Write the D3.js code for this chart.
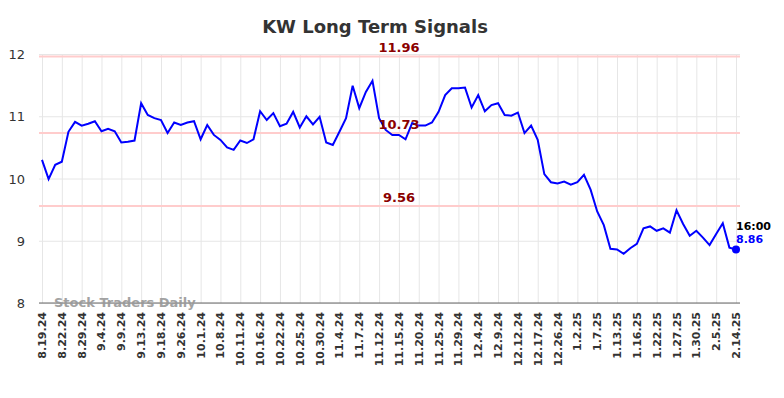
<!DOCTYPE html>
<html>
<head>
<meta charset="utf-8">
<script src="https://cdn.jsdelivr.net/npm/d3@7"></script>
<style>
  body { margin: 0; background: #fff; }
  svg { font-family: "DejaVu Sans", sans-serif; }
</style>
</head>
<body>
<div id="chart"></div>
<script>
// closing prices, one per trading day shown
const prices = [
  10.30, 9.99, 10.22, 10.27, 10.75, 10.91, 10.85, 10.88, 10.92, 10.76,
  10.80, 10.76, 10.58, 10.59, 10.61, 11.21, 11.02, 10.97, 10.94, 10.73,
  10.90, 10.86, 10.90, 10.92, 10.63, 10.86, 10.70, 10.62, 10.50, 10.46,
  10.61, 10.57, 10.63, 11.08, 10.94, 11.05, 10.84, 10.88, 11.07, 10.82,
  11.00, 10.87, 10.99, 10.58, 10.54, 10.75, 10.97, 11.49, 11.13, 11.39,
  11.57, 10.97, 10.78, 10.70, 10.70, 10.63, 10.89, 10.85, 10.85, 10.90,
  11.07, 11.34, 11.45, 11.45, 11.46, 11.14, 11.34, 11.08, 11.18, 11.21,
  11.02, 11.01, 11.06, 10.73, 10.85, 10.62, 10.07, 9.94, 9.92, 9.95,
  9.90, 9.94, 10.06, 9.82, 9.47, 9.25, 8.87, 8.86, 8.79, 8.88,
  8.95, 9.20, 9.23, 9.16, 9.20, 9.13, 9.49, 9.27, 9.08, 9.16,
  9.05, 8.93, 9.11, 9.28, 8.89, 8.86
];

// one label every third point
const tickLabels = [
  '8.19.24', '8.22.24', '8.29.24', '9.4.24', '9.9.24', '9.13.24', '9.18.24',
  '9.26.24', '10.1.24', '10.8.24', '10.11.24', '10.16.24', '10.22.24',
  '10.25.24', '10.30.24', '11.4.24', '11.7.24', '11.12.24', '11.15.24',
  '11.20.24', '11.25.24', '11.29.24', '12.4.24', '12.9.24', '12.12.24',
  '12.17.24', '12.26.24', '1.2.25', '1.7.25', '1.13.25', '1.16.25',
  '1.22.25', '1.27.25', '1.30.25', '2.5.25', '2.14.25'
];
const tickStep = 3;

const signalLevels = [11.96, 10.73, 9.56];
const yTicks = [8, 9, 10, 11, 12];
const lastTime = '16:00';

const width = 784, height = 398;
const plotLeft = 39, plotRight = 740, plotTop = 54, plotBottom = 303;

const svg = d3.select('#chart')
  .append('svg')
    .attr('width', width)
    .attr('height', height);

const x = d3.scaleLinear()
  .domain([0, prices.length - 1])
  .range([42, 736]);

const y = d3.scaleLinear()
  .domain([8, 12])
  .range([plotBottom, plotTop]);

const tickIdx = tickLabels.map((d, i) => i * tickStep);

// grid
svg.append('g')
  .attr('transform', 'translate(0,' + plotBottom + ')')
  .call(d3.axisBottom(x).tickValues(tickIdx).tickSize(-(plotBottom - plotTop)).tickFormat(''))
  .call(g => g.select('.domain').remove())
  .call(g => g.selectAll('line').attr('stroke', '#e6e6e6').attr('stroke-width', 1));

svg.append('g')
  .attr('transform', 'translate(' + plotLeft + ',0)')
  .call(d3.axisLeft(y).tickValues(yTicks).tickSize(-(plotRight - plotLeft)).tickFormat(''))
  .call(g => g.select('.domain').remove())
  .call(g => g.selectAll('line').attr('stroke', '#e6e6e6').attr('stroke-width', 1));

// y labels
svg.append('g')
  .selectAll('text')
  .data(yTicks)
  .enter()
  .append('text')
    .attr('x', 25)
    .attr('y', d => y(d) + 5)
    .attr('text-anchor', 'end')
    .attr('font-size', 13)
    .attr('fill', '#333')
    .text(d => d);

// x labels
svg.append('g')
  .selectAll('text')
  .data(tickIdx)
  .enter()
  .append('text')
    .attr('transform', d => 'translate(' + (x(d) + 4) + ',312) rotate(-90)')
    .attr('text-anchor', 'end')
    .attr('font-size', 11)
    .attr('font-weight', 'bold')
    .attr('fill', '#333')
    .text((d, i) => tickLabels[i]);

// bottom axis line
svg.append('line')
  .attr('x1', plotLeft).attr('x2', plotRight)
  .attr('y1', plotBottom).attr('y2', plotBottom)
  .attr('stroke', '#666')
  .attr('stroke-width', 1);

// signal levels
svg.append('g')
  .selectAll('line')
  .data(signalLevels)
  .enter()
  .append('line')
    .attr('x1', plotLeft).attr('x2', plotRight)
    .attr('y1', d => y(d)).attr('y2', d => y(d))
    .attr('stroke', '#ffcccc')
    .attr('stroke-width', 2);

// price line
svg.append('path')
  .datum(prices)
  .attr('fill', 'none')
  .attr('stroke', '#0000ff')
  .attr('stroke-width', 2)
  .attr('d', d3.line().x((d, i) => x(i)).y(d => y(d)));

svg.append('g')
  .selectAll('text')
  .data(signalLevels)
  .enter()
  .append('text')
    .attr('x', 399)
    .attr('y', d => y(d) - 4)
    .attr('text-anchor', 'middle')
    .attr('font-size', 13)
    .attr('font-weight', 'bold')
    .attr('fill', '#8b0000')
    .text(d => d.toFixed(2));

// watermark
svg.append('text')
  .attr('x', 54)
  .attr('y', 307)
  .attr('font-size', 13)
  .attr('font-weight', 'bold')
  .attr('fill', '#999')
  .attr('opacity', 0.9)
  .text('Stock Traders Daily');

// last point
const lastI = prices.length - 1;
svg.append('circle')
  .attr('cx', x(lastI))
  .attr('cy', y(prices[lastI]))
  .attr('r', 4)
  .attr('fill', '#0000ff');

svg.append('text')
  .attr('x', x(lastI))
  .attr('y', 230)
  .attr('font-size', 11)
  .attr('font-weight', 'bold')
  .attr('fill', '#000')
  .text(lastTime);

svg.append('text')
  .attr('x', x(lastI))
  .attr('y', 243)
  .attr('font-size', 11)
  .attr('font-weight', 'bold')
  .attr('fill', '#0000ff')
  .text(prices[lastI].toFixed(2));

// title
svg.append('text')
  .attr('x', 375)
  .attr('y', 33)
  .attr('text-anchor', 'middle')
  .attr('font-size', 18)
  .attr('font-weight', 'bold')
  .attr('fill', '#333')
  .text('KW Long Term Signals');
</script>
</body>
</html>
